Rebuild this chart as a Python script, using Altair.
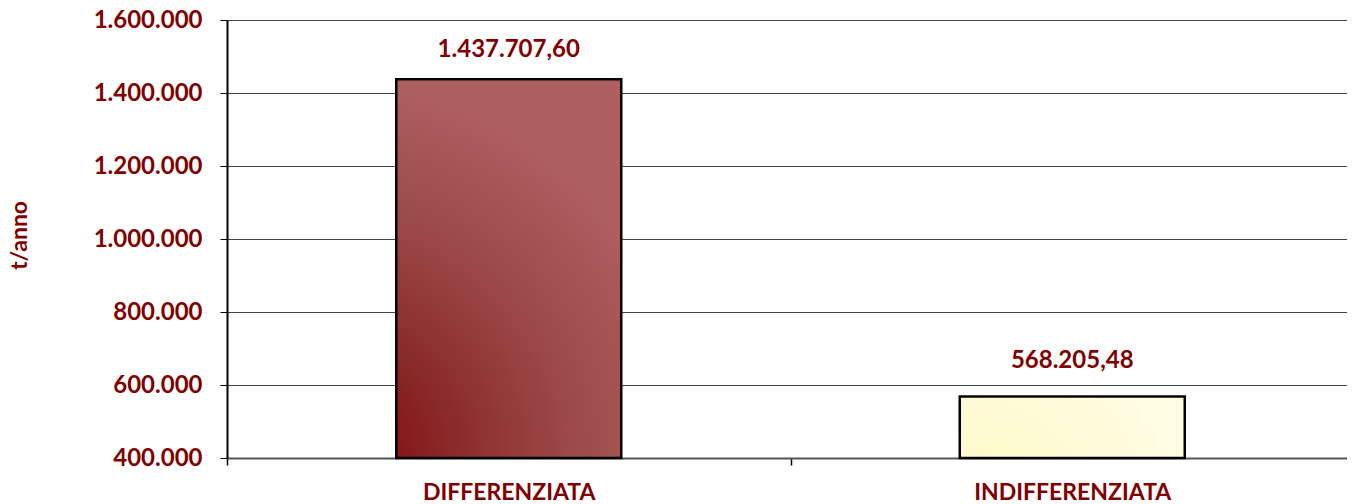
import altair as alt
import pandas as pd

categories = ["DIFFERENZIATA", "INDIFFERENZIATA"]
values = [1437707.60, 568205.48]
y_ticks = [400000, 600000, 800000, 1000000, 1200000, 1400000, 1600000]
y_title = "t/anno"

df = pd.DataFrame({"categoria": categories, "valore": values})

RED = "#800000"
FONT = "Lato"

x_enc = alt.X(
    "categoria:N",
    sort=categories,
    scale=alt.Scale(paddingInner=0, paddingOuter=0, range=[0, 1127]),
    axis=alt.Axis(
        title=None, labelAngle=0, tickBand="extent", tickSize=7, tickColor="black",
        tickWidth=1.5, domainColor="#555555", domainWidth=2, grid=False,
        labelFont=FONT, labelFontSize=23, labelFontWeight="bold", labelColor=RED,
        labelPadding=16, labelLimit=0,
    ),
)
y_enc = alt.Y(
    "valore:Q",
    scale=alt.Scale(domain=[400000, 1600000], zero=False, nice=False),
    axis=alt.Axis(
        values=y_ticks, format=",.0f", title=y_title,
        labelFont=FONT, labelFontSize=24, labelFontWeight="bold", labelColor=RED,
        labelPadding=18, labelLimit=0, tickSize=7, tickColor="black", tickWidth=1,
        domainColor="black", domainWidth=2, gridColor="#444444", gridWidth=1,
        titleFont=FONT, titleFontSize=23, titleFontWeight="bold", titleColor=RED,
        titleAngle=270, titleX=-208, titleY=215, titleBaseline="middle", titleAlign="center",
    ),
)

grad_red = {
    "gradient": "radial", "x1": 0, "y1": 1, "x2": 0, "y2": 1, "r1": 0, "r2": 1,
    "stops": [
        {"offset": 0, "color": "#7d0000"},
        {"offset": 0.35, "color": "#8a2a2a"},
        {"offset": 0.65, "color": "#9b4848"},
        {"offset": 1, "color": "#ae5f5f"},
    ],
}
grad_yellow = {
    "gradient": "radial", "x1": 0, "y1": 1, "x2": 0, "y2": 1, "r1": 0, "r2": 1,
    "stops": [
        {"offset": 0, "color": "#fff6c0"},
        {"offset": 1, "color": "#fffde2"},
    ],
}
grads = [grad_red, grad_yellow]
label_dy = [-22, -29]

layers = []
for cat, g, dy in zip(categories, grads, label_dy):
    bar = alt.Chart(df).transform_filter(alt.datum.categoria == cat).mark_bar(
        width=225, color=g, stroke="black", strokeWidth=2.5
    ).encode(x=x_enc, y=y_enc, y2=alt.datum(400000))
    txt = alt.Chart(df).transform_filter(alt.datum.categoria == cat).mark_text(
        font=FONT, fontSize=24, fontWeight="bold", color=RED, baseline="alphabetic", dy=dy
    ).encode(x=x_enc, y=y_enc, text=alt.Text("valore:Q", format=",.2f"))
    layers += [bar, txt]

chart = alt.layer(*layers).properties(
    width=1120, height=438,
    autosize=alt.AutoSizeParams(type="none"),
    padding={"left": 219, "top": 12, "right": 0, "bottom": 45},
).configure_view(
    stroke="#808080", strokeWidth=2
).configure(
    locale={"number": {"decimal": ",", "thousands": ".", "grouping": [3], "currency": ["", " €"]}}
)

chart.save("out.html", embed_options={"renderer": "svg", "actions": False})
